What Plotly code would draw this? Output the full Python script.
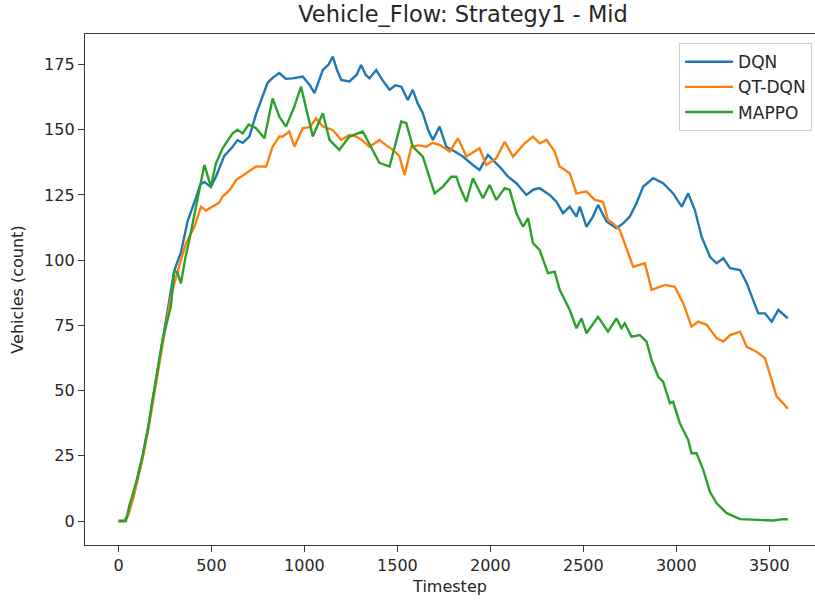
import plotly.graph_objects as go

# Vehicle counts per timestep for each controller
dqn_t = [0, 30, 50, 80, 100, 130, 160, 190, 220, 250, 280, 300, 336, 372, 417, 440, 462, 497, 524, 569,
         614, 640, 668, 704, 740, 775, 802, 830, 865, 900, 937, 991, 1030, 1054, 1099, 1130, 1152, 1175,
         1198, 1242, 1280, 1305, 1330, 1350, 1386, 1420, 1458, 1490, 1521, 1556, 1583, 1610, 1637, 1665,
         1691, 1727, 1763, 1800, 1835, 1852, 1906, 1942, 1987, 2032, 2060, 2095, 2140, 2194, 2230, 2265,
         2319, 2355, 2391, 2427, 2463, 2481, 2517, 2552, 2579, 2625, 2678, 2714, 2750, 2786, 2822, 2876,
         2929, 2983, 3029, 3064, 3100, 3136, 3181, 3217, 3253, 3289, 3343, 3379, 3414, 3441, 3477, 3513,
         3549, 3580, 3600]
dqn_v = [0, 0, 2, 9, 16, 25, 36, 49, 62, 75, 88, 96, 103, 115, 124, 129, 130, 128, 132, 140,
         143.5, 146, 145, 147.4, 156, 163, 168, 170, 171.7, 169.5, 169.7, 170.4, 167, 164, 172.9, 175, 178, 173,
         169.1, 168.5, 171, 174.8, 171, 169.7, 172.9, 169, 165.3, 167, 166.5, 161.4, 165.3, 160, 156.3, 150,
         146.1, 151.2, 143.5, 142, 140.3, 139.7, 136.5, 134.6, 140.3, 137.2, 135, 132, 129.5, 125, 127, 127.6,
         125, 122.4, 118, 120.5, 116.7, 120.5, 112.8, 116.7, 121.2, 114.8, 112.2, 114.1, 116.7, 121.8, 128.2, 131.4,
         129.5, 125.6, 120.5, 125.6, 119.2, 109, 101.3, 98.8, 100.7, 96.9, 96.2, 91.1, 84.7, 79.6, 79.6, 76.4,
         80.9, 79, 77.7]

qtdqn_t = [0, 30, 50, 80, 100, 130, 160, 190, 220, 250, 280, 300, 336, 363, 408, 444, 470, 506, 540, 560,
           600, 632, 686, 740, 794, 829, 865, 883, 919, 946, 991, 1030, 1063, 1099, 1152, 1198, 1240, 1278,
           1310, 1350, 1404, 1440, 1476, 1510, 1539, 1555, 1575, 1615, 1655, 1690, 1727, 1781, 1826, 1871,
           1942, 1978, 2032, 2077, 2122, 2185, 2229, 2265, 2302, 2346, 2373, 2427, 2463, 2517, 2562, 2606,
           2633, 2660, 2696, 2732, 2768, 2831, 2867, 2939, 2992, 3037, 3082, 3118, 3163, 3217, 3253, 3289,
           3343, 3379, 3432, 3477, 3513, 3540, 3570, 3600]
qtdqn_v = [0, 0, 2, 9, 15, 24, 35, 48, 60, 73, 85, 91, 100, 106.5, 112.8, 120.5, 119, 120.5, 122, 124.4,
           127, 130.7, 133.3, 135.9, 135.9, 143.5, 147.4, 147.4, 149.3, 143.5, 150.6, 151, 154.4, 151.2, 149.9, 146.1, 148, 147.4,
           146, 143.5, 146.1, 144, 142.3, 140, 132.7, 138, 143.5, 144, 143.5, 145, 144.2, 141.6, 146.7, 139.7,
           142.9, 136.5, 139.1, 145.4, 139.7, 144.8, 147.4, 144.8, 146.1, 141.6, 135.9, 133.3, 125.6, 126.3, 123.1, 122.4,
           115.4, 114.1, 111.6, 104.5, 97.5, 98.8, 88.6, 90.5, 89.8, 83.5, 74.5, 76.4, 75.2, 70.1, 68.8, 71.3,
           72.6, 66.8, 64.9, 62.4, 54.1, 47.7, 45.5, 43]

mappo_t = [0, 40, 57, 80, 100, 129, 160, 183, 210, 237, 260, 282, 300, 318, 336, 360, 381, 410, 435, 462,
           497, 524, 560, 590, 614, 640, 668, 700, 740, 785, 829, 865, 901, 946, 982, 1010, 1045, 1099, 1135,
           1188, 1242, 1314, 1360, 1404, 1458, 1494, 1521, 1548, 1583, 1637, 1700, 1745, 1790, 1817, 1835,
           1871, 1906, 1960, 1996, 2032, 2077, 2104, 2140, 2176, 2203, 2229, 2265, 2310, 2346, 2373, 2427,
           2463, 2490, 2517, 2579, 2633, 2678, 2705, 2723, 2759, 2804, 2840, 2867, 2903, 2929, 2966, 2983,
           3019, 3064, 3082, 3109, 3145, 3181, 3217, 3271, 3343, 3450, 3522, 3576, 3600]
mappo_v = [0, 0, 5.5, 11, 16, 24.7, 36, 46.4, 58, 69.4, 76, 82.2, 96.2, 95, 91.1, 101, 107.7, 118, 126.9, 136.5,
           128.2, 137, 142.9, 146, 148.6, 150, 148.6, 152, 150.6, 146.7, 162, 155, 151.2, 158.9, 166.5, 158, 147.4, 156.3, 146.1,
           142.3, 147.4, 149.3, 143, 137.2, 135.9, 146.1, 153.1, 152.5, 143.5, 139.7, 125.6, 128.2, 132, 132, 128.2,
           122.4, 131.4, 123.7, 128.8, 123.1, 127.6, 126.9, 118, 112.8, 116.1, 106.5, 103.9, 95, 95.6, 88.6, 80.9,
           73.9, 77.7, 72, 78.3, 72.6, 77.7, 73.9, 75.8, 70.7, 71.3, 68.8, 61.7, 55.3, 53.4, 45.1, 45.7,
           37.5, 31.1, 26, 26, 19.6, 11.2, 6.8, 3, 0.7, 0.4, 0.2, 0.7, 0.7]

series = [
    ("DQN", dqn_t, dqn_v, "#1f77b4"),
    ("QT-DQN", qtdqn_t, qtdqn_v, "#ff7f0e"),
    ("MAPPO", mappo_t, mappo_v, "#2ca02c"),
]

x_ticks = [0, 500, 1000, 1500, 2000, 2500, 3000, 3500]
y_ticks = [0, 25, 50, 75, 100, 125, 150, 175]

FONT = "DejaVu Sans, sans-serif"
INK = "#262626"
SPINE = "#3a3a3a"

fig = go.Figure()
for name, t, v, color in series:
    fig.add_trace(go.Scatter(x=t, y=v, mode="lines", name=name,
                             line=dict(color=color, width=2.4)))

axis_common = dict(
    showgrid=False, zeroline=False,
    showline=True, linecolor=SPINE, linewidth=1.3,
    ticks="outside", ticklen=6, tickwidth=1.2, tickcolor=SPINE,
    tickfont=dict(family=FONT, size=16, color=INK),
)

fig.update_layout(
    width=815, height=603,
    margin=dict(l=85, r=0, t=34, b=58),
    paper_bgcolor="white", plot_bgcolor="white",
    font=dict(family=FONT, color=INK),
    title=dict(text="Vehicle_Flow: Strategy1 - Mid", font=dict(family=FONT, size=22.5, color=INK),
               x=463 / 815, xref="container", xanchor="center",
               y=1 - 14 / 603, yref="container", yanchor="middle"),
    # top spine drawn by mirroring the x axis line; right side stays open past the frame edge
    xaxis=dict(range=[-180, 3746], tickvals=x_ticks, mirror=True,
               title=dict(text="Timestep", font=dict(family=FONT, size=16, color=INK), standoff=6),
               **axis_common),
    yaxis=dict(range=[-9.2, 186.7], tickvals=y_ticks, mirror=False,
               title=dict(text="Vehicles (count)", font=dict(family=FONT, size=16, color=INK), standoff=16),
               **axis_common),
    legend=dict(x=0.996, y=0.982, xanchor="right", yanchor="top",
                bgcolor="rgba(255,255,255,0.85)", bordercolor="#d0d0d0", borderwidth=1,
                font=dict(family=FONT, size=17, color=INK), tracegroupgap=0,
                itemwidth=48),
    showlegend=True,
)

fig.write_html("out.html")
